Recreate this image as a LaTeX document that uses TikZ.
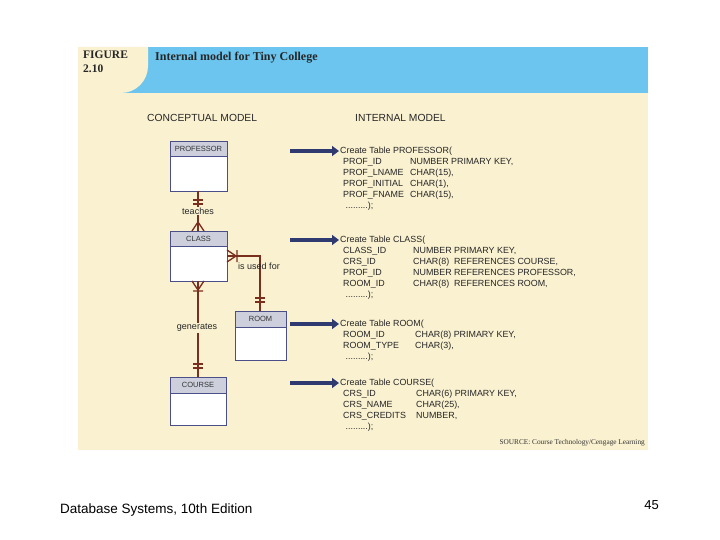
\documentclass[tikz,border=0pt]{standalone}
\usepackage{fontspec}
\setmainfont{Liberation Sans}
\newfontfamily\serifb{Liberation Serif}
\usetikzlibrary{arrows.meta}
\definecolor{cream}{HTML}{FAF1D0}
\definecolor{hblue}{HTML}{6CC5EF}
\definecolor{rel}{HTML}{7A2E1E}
\definecolor{navy}{HTML}{2E3A70}
\definecolor{ehead}{HTML}{CDD0DC}
\definecolor{eline}{HTML}{4A4F8A}
\begin{document}
\begin{tikzpicture}[x=1pt,y=-1pt,
  ent/.style={draw=eline,line width=0.9pt,fill=white},
  hd/.style={draw=eline,line width=0.9pt,fill=ehead},
  lbl/.style={font=\fontsize{7.5}{8}\selectfont,inner sep=0pt,text=black!80},
  rlab/.style={font=\fontsize{9}{10}\selectfont,inner sep=1pt,text=black!85},
  rl/.style={draw=rel,line width=2pt},
  tk/.style={draw=rel,line width=1.3pt},
  arr/.style={draw=navy,line width=3.5pt,-{Triangle[length=7pt,width=10pt]}},
  code/.style={font=\fontsize{8.9}{11}\selectfont,anchor=north west,inner sep=0pt,text=black!85}]
\useasboundingbox (0,0) rectangle (720,540);
\fill[white] (0,0) rectangle (720,540);
\fill[cream] (78,47) rectangle (648,450);
\fill[hblue] (110,47) rectangle (648,93);
\fill[cream] (78,47) -- (148,47) -- (148,66) arc[start angle=0,end angle=90,radius=27] -- (78,93) -- cycle;
\node[anchor=north west,inner sep=0pt,font=\serifb\bfseries\fontsize{11.5}{14}\selectfont,align=left,text=black!85] (fig) at (83,51) {FIGURE\\2.10};
\node[anchor=west,inner sep=0pt,font=\serifb\bfseries\fontsize{12}{13}\selectfont,text=black!85] (title) at (155,58) {Internal model for Tiny College};
\node[anchor=west,inner sep=0pt,font=\fontsize{10.3}{11}\selectfont,text=black!85] (cm) at (147,118) {CONCEPTUAL MODEL};
\node[anchor=west,inner sep=0pt,font=\fontsize{10.3}{11}\selectfont,text=black!85] (im) at (355,118) {INTERNAL MODEL};
% entities
\draw[ent] (170,141) rectangle (227,191); \draw[hd] (170,141) rectangle (227,156);
\node[lbl] (prof) at (198.5,148.5) {PROFESSOR};
\draw[ent] (170,231) rectangle (227,281); \draw[hd] (170,231) rectangle (227,246);
\node[lbl] (cls) at (198.5,238.5) {CLASS};
\draw[ent] (235,311) rectangle (286,360); \draw[hd] (235,311) rectangle (286,327);
\node[lbl] (room) at (260.5,319) {ROOM};
\draw[ent] (170,377) rectangle (226,425); \draw[hd] (170,377) rectangle (226,393);
\node[lbl] (crs) at (198,385) {COURSE};
\coordinate (pb) at (198,191); \coordinate (ct) at (198,231);
\coordinate (cb) at (198,281); \coordinate (crt) at (198,377);
\coordinate (cr) at (227,256); \coordinate (rt) at (260,311); \coordinate (bend) at (260,256);
% relationships
\draw[rl] (pb) -- (ct);
\draw[tk] (193,200)--(203,200) (193,204)--(203,204);
\draw[tk] (198,222)--(192,231) (198,222)--(204,231);
\node[rlab,fill=cream] (t1) at (198,211) {teaches};
\draw[rl] (cr) -- (bend) -- (rt);
\draw[tk] (236,256)--(227,250) (236,256)--(227,262) (237,250)--(237,262);
\draw[tk] (255,298)--(265,298) (255,302)--(265,302);
\node[rlab] (t2) at (259,266) {is used for};
\draw[rl] (cb) -- (crt);
\draw[tk] (198,290)--(192,281) (198,290)--(204,281) (193,291)--(203,291);
\draw[tk] (193,364)--(203,364) (193,368)--(203,368);
\node[rlab,fill=cream] (t3) at (197,328) {generates};
% arrows
\coordinate (a1) at (290,151); \coordinate (b1) at (339,151);
\coordinate (a2) at (290,240); \coordinate (b2) at (339,240);
\coordinate (a3) at (290,324); \coordinate (b3) at (339,324);
\coordinate (a4) at (290,383); \coordinate (b4) at (339,383);
\draw[arr] (a1)--(b1); \draw[arr] (a2)--(b2); \draw[arr] (a3)--(b3); \draw[arr] (a4)--(b4);
% code
\node[code] (c1) at (340,146) {\begin{tabular}{@{\hspace{3pt}}p{67pt}@{}l@{}}
\multicolumn{2}{@{}l}{Create Table PROFESSOR(}\\
PROF\_ID & NUMBER PRIMARY KEY,\\
PROF\_LNAME & CHAR(15),\\
PROF\_INITIAL & CHAR(1),\\
PROF\_FNAME & CHAR(15),\\
\ .........); &\end{tabular}};
\node[code] (c2) at (340,235) {\begin{tabular}{@{\hspace{3pt}}p{70pt}@{}l@{}}
\multicolumn{2}{@{}l}{Create Table CLASS(}\\
CLASS\_ID & NUMBER PRIMARY KEY,\\
CRS\_ID & CHAR(8)\ \ REFERENCES COURSE,\\
PROF\_ID & NUMBER REFERENCES PROFESSOR,\\
ROOM\_ID & CHAR(8)\ \ REFERENCES ROOM,\\
\ .........); &\end{tabular}};
\node[code] (c3) at (340,319) {\begin{tabular}{@{\hspace{3pt}}p{72pt}@{}l@{}}
\multicolumn{2}{@{}l}{Create Table ROOM(}\\
ROOM\_ID & CHAR(8) PRIMARY KEY,\\
ROOM\_TYPE & CHAR(3),\\
\ .........); &\end{tabular}};
\node[code] (c4) at (340,378) {\begin{tabular}{@{\hspace{3pt}}p{73pt}@{}l@{}}
\multicolumn{2}{@{}l}{Create Table COURSE(}\\
CRS\_ID & CHAR(6) PRIMARY KEY,\\
CRS\_NAME & CHAR(25),\\
CRS\_CREDITS & NUMBER,\\
\ .........); &\end{tabular}};
\node[anchor=east,inner sep=0pt,font=\serifb\fontsize{7.3}{8}\selectfont,text=black!80] (src) at (645,443) {SOURCE: Course Technology/Cengage Learning};
\node[anchor=west,inner sep=0pt,font=\fontsize{13.5}{15}\selectfont] (foot) at (60,510) {Database Systems, 10th Edition};
\node[anchor=east,inner sep=0pt,font=\fontsize{13}{15}\selectfont] (pg) at (659,505) {45};
\end{tikzpicture}
\end{document}
